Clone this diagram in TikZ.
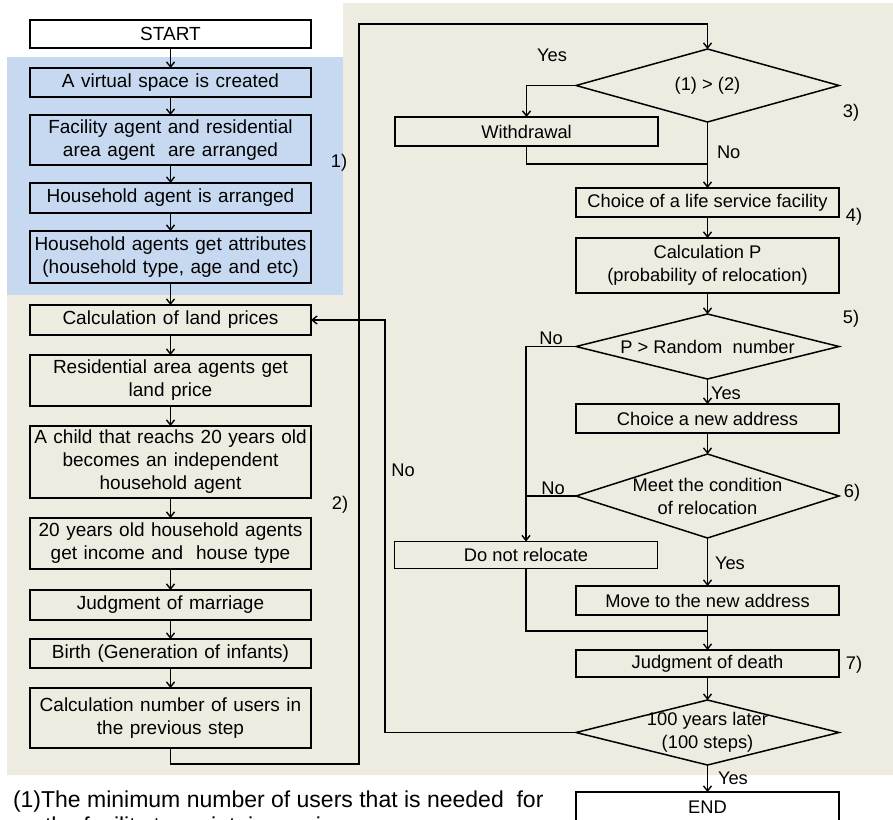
\documentclass[tikz,border=0pt]{standalone}
\usepackage{fontspec}
\setmainfont{Liberation Sans}
\usetikzlibrary{arrows.meta}
\definecolor{beige}{HTML}{EEECE1}
\definecolor{lblue}{HTML}{C6D9F1}
\newcommand\myfont{\fontsize{19}{23}\selectfont\spaceskip=6.5pt plus 1pt minus 1pt\relax}
\newcommand\myrfont{\fontsize{18.3}{23}\selectfont\relax}
\newcommand\myfnfont{\fontsize{23}{26}\selectfont\relax}
\begin{document}
\begin{tikzpicture}[x=1pt,y=-1pt,
  font=\myrfont,
  box/.style={draw, line width=1.5pt, inner sep=0pt, outer sep=0pt, align=center},
  lbox/.style={box, minimum width=281pt, font=\myfont},
  rbox/.style={box, minimum width=263pt},
  dia/.style={inner sep=0pt, outer sep=0pt, minimum width=263pt, align=center},
  arr/.style={-{Straight Barb[length=5pt,width=8pt]}, line width=1.4pt},
  ln/.style={line width=1.4pt},
  lab/.style={inner sep=0pt, outer sep=0pt}]
\useasboundingbox (0,0) rectangle (893,819);
% backgrounds
\fill[beige] (7,57) -- (343,57) -- (343,3) -- (893,3) -- (893,775) -- (7,775) -- cycle;
\fill[lblue] (7,57) rectangle (343,295);
% left column
\node[lbox, fill=white, minimum height=28pt] (start) at (170.5,34) {START};
\node[lbox, minimum height=29pt] (virt) at (170.5,82.5) {A virtual space is created};
\node[lbox, minimum height=50pt] (fac) at (170.5,140) {Facility agent and residential\\area agent\ \ are arranged};
\node[lbox, minimum height=30pt] (hh) at (170.5,198) {Household agent is arranged};
\node[lbox, minimum height=52pt] (attr) at (170.5,257) {Household agents get attributes\\(household type, age and etc)};
\node[lbox, minimum height=30pt] (land) at (170.5,320) {Calculation of land prices};
\node[lbox, minimum height=51pt] (resid) at (170.5,380.5) {Residential area agents get\\land price};
\node[lbox, minimum height=72pt] (child) at (170.5,462) {A child that reachs 20 years old\\becomes an independent\\household agent};
\node[lbox, minimum height=51pt] (twenty) at (170.5,543.5) {20 years old household agents\\get income and\ \ house type};
\node[lbox, minimum height=30pt] (marr) at (170.5,605) {Judgment of marriage};
\node[lbox, minimum height=29pt] (birth) at (170.5,653.5) {Birth (Generation of infants)};
\node[lbox, minimum height=60pt] (calcu) at (170.5,718) {Calculation number of users in\\the previous step};
% right column
\node[dia, minimum height=73pt] (d1) at (707.5,85.5) {(1) > (2)};
\node[rbox, minimum height=29pt] (withd) at (526.5,131.5) {Withdrawal};
\node[rbox, minimum height=29pt] (choice) at (707.5,202.5) {Choice of a life service facility};
\node[rbox, minimum height=55pt] (calcp) at (707.5,265.5) {Calculation P\\(probability of relocation)};
\node[dia, minimum height=65pt] (d2) at (707.5,346.5) {\raisebox{-2pt}{P > Random\ \ number}};
\node[rbox, minimum height=29pt] (newad) at (707.5,418.5) {Choice a new address};
\node[dia, minimum height=84pt] (d3) at (707.5,496) {Meet the condition\\of relocation};
\node[rbox, minimum height=27pt] (donot) at (526,555) {Do not relocate};
\node[rbox, minimum height=29pt] (move) at (707.5,600.5) {Move to the new address};
\node[rbox, minimum height=27pt] (death) at (707.5,663.5) {Judgment of death};
\node[dia, minimum height=65pt] (d4) at (707.5,732.5) {100 years later\\(100 steps)};
\node[rbox, fill=white, minimum height=30pt] (end) at (707.5,807) {END};
% diamonds
\foreach \d in {d1,d2,d3,d4}
  \draw[line width=1.5pt] (\d.north) -- (\d.east) -- (\d.south) -- (\d.west) -- cycle;
% left chain
\draw[arr] (start) -- (virt);
\draw[arr] (virt) -- (fac);
\draw[arr] (fac) -- (hh);
\draw[arr] (hh) -- (attr);
\draw[arr] (attr) -- (land);
\draw[arr] (land) -- (resid);
\draw[arr] (resid) -- (child);
\draw[arr] (child) -- (twenty);
\draw[arr] (twenty) -- (marr);
\draw[arr] (marr) -- (birth);
\draw[arr] (birth) -- (calcu);
% loop to the right column
\coordinate (l1) at (170.5,764);
\coordinate (l2) at (359,764);
\coordinate (l3) at (359,24);
\coordinate (l4) at (707.5,24);
\draw[arr] (calcu.south) -- (l1) -- (l2) -- (l3) -- (l4) -- (d1.north);
% d1
\draw[arr] (d1.west) -| (withd.north);
\coordinate (j1) at (707.5,164);
\draw[ln] (withd.south) |- (j1);
\draw[arr] (d1.south) -- (choice.north);
\draw[arr] (choice) -- (calcp);
\draw[arr] (calcp) -- (d2.north);
% d2
\draw[arr] (d2.west) -| (donot.north);
\draw[arr] (d2.south) -- (newad.north);
\draw[arr] (newad) -- (d3.north);
% d3
\coordinate (j2) at (526,496);
\draw[ln] (d3.west) -- (j2);
\draw[arr] (d3.south) -- (move.north);
\coordinate (j3) at (707.5,631);
\draw[ln] (donot.south) |- (j3);
\draw[arr] (move) -- (death);
\draw[arr] (death) -- (d4.north);
% d4
\coordinate (b1) at (385,732.5);
\coordinate (b2) at (385,320);
\draw[arr] (d4.west) -- (b1) -- (b2) -- (land.east);
\draw[arr] (d4.south) -- (end.north);
% yes / no labels
\node[lab] (y1) at (552,55) {Yes};
\node[lab, anchor=west] (n1) at (717,152) {No};
\node[lab] (n2) at (551,338) {No};
\node[lab, anchor=west] (y2) at (711,393) {Yes};
\node[lab] (n3) at (553,488) {No};
\node[lab, anchor=west] (y3) at (715,563) {Yes};
\node[lab] (n4) at (403,470) {No};
\node[lab, anchor=west] (y4) at (718,778) {Yes};
% step labels
\node[lab] (s1) at (339,163) {1)};
\node[lab] (s2) at (340,505) {2)};
\node[lab] (s3) at (851,113) {3)};
\node[lab] (s4) at (854,217) {4)};
\node[lab] (s5) at (851,319) {5)};
\node[lab] (s6) at (852,493) {6)};
\node[lab] (s7) at (854,665) {7)};
% footnote
\node[lab, anchor=base west, font=\myfnfont] (fn1) at (13,807) {(1)The minimum number of users that is needed\ \ for};
\node[lab, anchor=base west, font=\myfnfont] (fn2) at (45,833) {the facility to maintain service};
\end{tikzpicture}
\end{document}
